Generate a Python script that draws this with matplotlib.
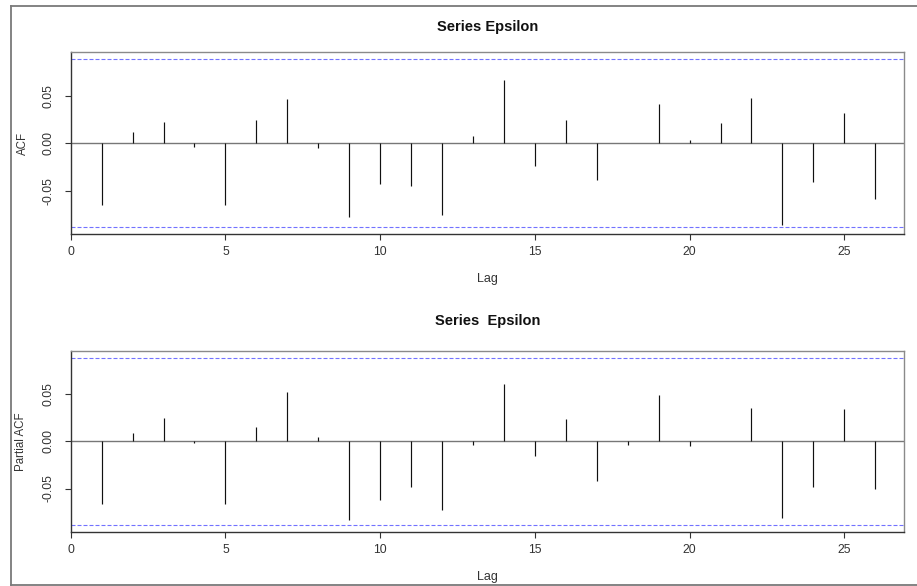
import matplotlib
matplotlib.use("Agg")
import matplotlib.pyplot as plt
from matplotlib.lines import Line2D
import numpy as np

plt.rcParams["font.family"] = ["Liberation Sans", "DejaVu Sans"]
plt.rcParams["axes.unicode_minus"] = False

# Lags and correlation estimates for the Epsilon series
lags = list(range(1, 27))
acf_vals = [-0.0656, 0.0118, 0.0226, -0.0038, -0.0650, 0.0240, 0.0465, -0.0052,
            -0.0780, -0.0430, -0.0455, -0.0753, 0.0076, 0.0667, -0.0240, 0.0247,
            -0.0385, 0.0004, 0.0413, 0.0035, 0.0215, 0.0480, -0.0865, -0.0410,
            0.0316, -0.0587]
pacf_vals = [-0.0664, 0.0084, 0.0245, -0.0014, -0.0664, 0.0147, 0.0524, 0.0042,
             -0.0829, -0.0619, -0.0479, -0.0724, -0.0035, 0.0605, -0.0157, 0.0238,
             -0.0420, -0.0035, 0.0483, -0.0049, 0.0004, 0.0350, -0.0808, -0.0483,
             0.0343, -0.0503]
conf_limit = 0.0884
x_ticks = [0, 5, 10, 15, 20, 25]
y_ticks = [-0.05, 0.0, 0.05]
y_tick_labels = ["-0.05", "0.00", "0.05"]
titles = ["Series Epsilon", "Series  Epsilon"]
ylabels = ["ACF", "Partial ACF"]

W, H = 917, 586
fig = plt.figure(figsize=(W / 100, H / 100), dpi=100)
fig.patch.set_facecolor("white")


def px(x, y):
    return x / W, 1 - y / H


# outer frame
frame_kw = dict(color="#7a7a7a", lw=1.3, transform=fig.transFigure)
fig.add_artist(Line2D([px(11, 0)[0], px(11, 0)[0]], [px(0, 5.5)[1], px(0, 585)[1]], **frame_kw))
fig.add_artist(Line2D([px(11, 0)[0], 1.0], [px(0, 5.5)[1], px(0, 5.5)[1]], **frame_kw))
fig.add_artist(Line2D([px(11, 0)[0], 1.0], [px(0, 585)[1], px(0, 585)[1]], **frame_kw))

panels = [
    dict(vals=acf_vals, top=52.3, bottom=234.0, title_y=26.7, lag_y=279.3, ylab_x=23.0),
    dict(vals=pacf_vals, top=350.7, bottom=531.7, title_y=321.0, lag_y=577.3, ylab_x=21.5),
]

left, right = 70.7, 904.0
for i, p in enumerate(panels):
    ax = fig.add_axes([left / W, 1 - p["bottom"] / H, (right - left) / W,
                       (p["bottom"] - p["top"]) / H])
    ax.vlines(lags, 0, p["vals"], color="#111111", lw=0.85)
    ax.axhline(0, color="#777777", lw=1.0, zorder=1)
    for s in (conf_limit, -conf_limit):
        ax.axhline(s, color="#7272ff", lw=0.8, linestyle=(0, (3.6, 1.8)))
    ax.set_xlim(0, 26.93)
    ax.set_ylim(-0.0956, 0.0956)
    ax.set_xticks(x_ticks)
    ax.set_xticklabels([str(t) for t in x_ticks])
    ax.set_yticks(y_ticks)
    ax.set_yticklabels(y_tick_labels)
    ax.tick_params(axis="both", direction="out", length=4.3, width=0.8,
                   labelsize=8.7, labelcolor="#333333", color="#333333")
    ax.tick_params(axis="x", pad=4.2)
    ax.tick_params(axis="y", pad=7.5, labelrotation=90)
    for lbl in ax.get_yticklabels():
        lbl.set_va("center")
    for side in ("top", "right"):
        ax.spines[side].set_color("#8a8a8a")
        ax.spines[side].set_linewidth(1.0)
    for side in ("left", "bottom"):
        ax.spines[side].set_color("#333333")
        ax.spines[side].set_linewidth(1.0)

    cx = (left + right) / 2
    fig.text(*px(cx, p["title_y"]), titles[i], ha="center", va="center",
             fontsize=10.5, fontweight="bold", color="#111111")
    fig.text(*px(cx, p["lag_y"]), "Lag", ha="center", va="center",
             fontsize=9, color="#333333")
    fig.text(*px(p["ylab_x"], (p["top"] + p["bottom"]) / 2), ylabels[i],
             ha="center", va="center", rotation=90, fontsize=8.3, color="#333333")

fig.savefig("out.png", dpi=100, facecolor="white")
